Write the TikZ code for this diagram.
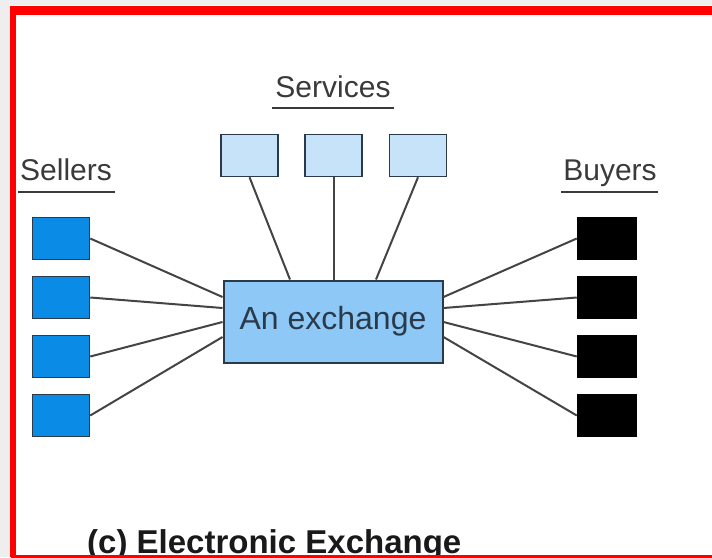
\documentclass[tikz,border=0pt]{standalone}
\usepackage{fontspec}
\setmainfont{Liberation Sans}
\definecolor{sellerblue}{HTML}{0A8CE6}
\definecolor{servblue}{HTML}{C6E3FA}
\definecolor{exblue}{HTML}{8DC8F6}
\definecolor{boxedge}{HTML}{2A3A4A}
\definecolor{wire}{HTML}{444444}
\definecolor{labelgray}{HTML}{3A3A3A}
\definecolor{framered}{HTML}{FF0000}
\definecolor{outergray}{HTML}{EEEEEE}
\tikzset{
  sellerbox/.style={draw=boxedge, line width=1.5pt, fill=sellerblue, minimum width=57pt, minimum height=42pt, inner sep=0pt},
  buyerbox/.style={draw=black, line width=1.5pt, fill=black, minimum width=59pt, minimum height=42pt, inner sep=0pt},
  servbox/.style={draw=boxedge, line width=1.5pt, fill=servblue, minimum width=57pt, minimum height=42pt, inner sep=0pt},
  exbox/.style={draw=boxedge, line width=2pt, fill=exblue, minimum width=219pt, minimum height=82pt, inner sep=0pt,
    font=\fontsize{32}{38}\selectfont, text=boxedge},
  grouplabel/.style={anchor=base, inner sep=0pt, text=labelgray, font=\fontsize{30}{36}\selectfont},
  underline/.style={draw=labelgray, line width=2.5pt},
  wireline/.style={draw=wire, line width=2pt},
}
\begin{document}
\begin{tikzpicture}[x=1pt,y=-1pt]
\useasboundingbox (0,0) rectangle (712,557);
% background and frame
\fill[outergray] (0,0) rectangle (712,557);
\fill[white] (10,5) rectangle (712,557);
\draw[framered, line width=9pt] (712,10) -- (10.5,10);
\draw[framered, line width=5.5pt] (13,5.5) -- (13,557);
\draw[framered, line width=3pt] (10.5,556) -- (712,556);

% labels
\node[grouplabel] (lsell) at (66,180) {Sellers};
\node[grouplabel] (lserv) at (333,97) {Services};
\node[grouplabel] (lbuy) at (610,180) {Buyers};
\draw[underline] (18,192) -- (115,192);
\draw[underline] (272,108) -- (394,108);
\draw[underline] (561,192) -- (658,192);

% exchange
\node[exbox] (ex) at (333,321.5) {An exchange};

% services
\node[servbox] (s1) at (249.5,155.5) {};
\node[servbox] (s2) at (333.5,155.5) {};
\node[servbox] (s3) at (418,155.5) {};

% sellers
\node[sellerbox] (a1) at (61,238.5) {};
\node[sellerbox] (a2) at (61,297.5) {};
\node[sellerbox] (a3) at (61,356.5) {};
\node[sellerbox] (a4) at (61,415.5) {};

% buyers
\node[buyerbox] (b1) at (607,238.5) {};
\node[buyerbox] (b2) at (607,297.5) {};
\node[buyerbox] (b3) at (607,356.5) {};
\node[buyerbox] (b4) at (607,415.5) {};

% connection points on the exchange
\coordinate (eL1) at (ex.west |- 0,297);
\coordinate (eL2) at (ex.west |- 0,308);
\coordinate (eL3) at (ex.west |- 0,322);
\coordinate (eL4) at (ex.west |- 0,337);
\coordinate (eR1) at (ex.east |- 0,297);
\coordinate (eR2) at (ex.east |- 0,308);
\coordinate (eR3) at (ex.east |- 0,322);
\coordinate (eR4) at (ex.east |- 0,337);
\coordinate (eT1) at (ex.north -| 290,0);
\coordinate (eT2) at (ex.north -| 333.5,0);
\coordinate (eT3) at (ex.north -| 376,0);

\draw[wireline] (a1.east) -- (eL1);
\draw[wireline] (a2.east) -- (eL2);
\draw[wireline] (a3.east) -- (eL3);
\draw[wireline] (a4.east) -- (eL4);
\draw[wireline] (b1.west) -- (eR1);
\draw[wireline] (b2.west) -- (eR2);
\draw[wireline] (b3.west) -- (eR3);
\draw[wireline] (b4.west) -- (eR4);
\draw[wireline] (s1.south) -- (eT1);
\draw[wireline] (s2.south) -- (eT2);
\draw[wireline] (s3.south) -- (eT3);

% caption
\node[anchor=base west, inner sep=0pt, text=black!90, font=\bfseries\fontsize{33}{40}\selectfont] (cap) at (87,553) {(c) Electronic Exchange};
% bottom frame line drawn over caption descenders
\draw[framered, line width=3pt] (10.5,556) -- (712,556);
\end{tikzpicture}
\end{document}
